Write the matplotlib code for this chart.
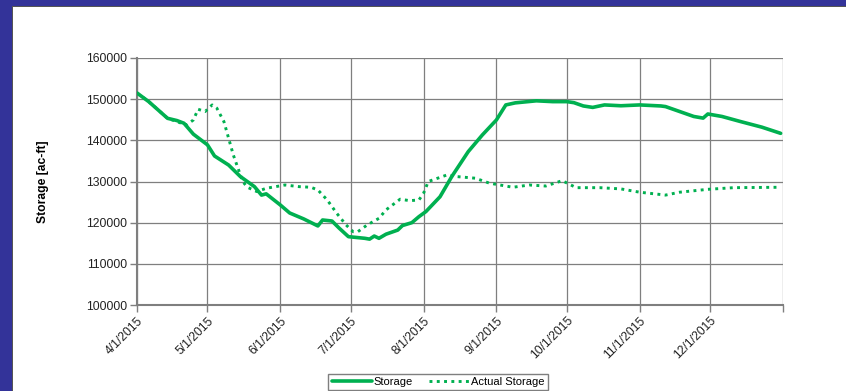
import matplotlib
matplotlib.use("Agg")
import matplotlib.pyplot as plt
from matplotlib.patches import Rectangle
import pandas as pd

# values (ac-ft)
storage_dates = ["2015-04-01", "2015-04-06", "2015-04-14", "2015-04-18", "2015-04-21",
                 "2015-04-25", "2015-05-01", "2015-05-04", "2015-05-10", "2015-05-15",
                 "2015-05-21", "2015-05-24", "2015-05-26", "2015-06-01", "2015-06-05",
                 "2015-06-11", "2015-06-17", "2015-06-19", "2015-06-23", "2015-06-26",
                 "2015-06-30", "2015-07-07", "2015-07-09", "2015-07-11", "2015-07-13",
                 "2015-07-16", "2015-07-21", "2015-07-23", "2015-07-27", "2015-07-30",
                 "2015-08-02", "2015-08-08", "2015-08-13", "2015-08-20", "2015-08-26",
                 "2015-09-01", "2015-09-05", "2015-09-09", "2015-09-18", "2015-09-25",
                 "2015-10-01", "2015-10-04", "2015-10-08", "2015-10-12", "2015-10-17",
                 "2015-10-24", "2015-11-01", "2015-11-10", "2015-11-12", "2015-11-18",
                 "2015-11-24", "2015-11-28", "2015-11-30", "2015-12-06", "2015-12-14",
                 "2015-12-23", "2015-12-31"]
storage = [151500, 149400, 145350, 144800, 144150,
           141500, 138900, 136200, 134000, 131200,
           128750, 126700, 127000, 124300, 122350,
           120900, 119200, 120650, 120400, 118700,
           116600, 116200, 116000, 116750, 116200,
           117200, 118200, 119300, 120000, 121450,
           122700, 126300, 131200, 137250, 141300,
           144950, 148600, 149100, 149600, 149400,
           149400, 149150, 148350, 148000, 148600,
           148400, 148600, 148350, 148200, 147000,
           145800, 145400, 146400, 145800, 144550,
           143200, 141700]

actual_dates = ["2015-04-01", "2015-04-06", "2015-04-14", "2015-04-18", "2015-04-22",
                "2015-04-25", "2015-04-27", "2015-04-30", "2015-05-03", "2015-05-05",
                "2015-05-08", "2015-05-10", "2015-05-12", "2015-05-14", "2015-05-16",
                "2015-05-18", "2015-05-22", "2015-05-26", "2015-06-03", "2015-06-09",
                "2015-06-14", "2015-06-17", "2015-06-21", "2015-06-25", "2015-06-29",
                "2015-07-02", "2015-07-04", "2015-07-08", "2015-07-13", "2015-07-16",
                "2015-07-22", "2015-07-26", "2015-07-30", "2015-08-01", "2015-08-03",
                "2015-08-07", "2015-08-11", "2015-08-15", "2015-08-23", "2015-08-29",
                "2015-09-08", "2015-09-15", "2015-09-22", "2015-09-29", "2015-10-05",
                "2015-10-15", "2015-10-24", "2015-11-01", "2015-11-12", "2015-11-18",
                "2015-11-30", "2015-12-11", "2015-12-31"]
actual = [151500, 149400, 145350, 144550, 143700,
          144950, 147550, 147000, 148600, 147800,
          144550, 140500, 136450, 133200, 130000,
          128600, 127550, 128350, 129150, 128750,
          128600, 127950, 125500, 122300, 119450,
          117800, 117800, 119450, 121050, 123100,
          125700, 125350, 125500, 127150, 130000,
          130800, 131600, 131200, 130800, 129600,
          128600, 129150, 128900, 130200, 128500,
          128500, 128200, 127400, 126700, 127400,
          128100, 128500, 128600]

month_ticks = ["2015-04-01", "2015-05-01", "2015-06-01", "2015-07-01", "2015-08-01",
               "2015-09-01", "2015-10-01", "2015-11-01", "2015-12-01", "2016-01-01"]
tick_labels = ["4/1/2015", "5/1/2015", "6/1/2015", "7/1/2015", "8/1/2015",
               "9/1/2015", "10/1/2015", "11/1/2015", "12/1/2015", ""]
yticks = [100000, 110000, 120000, 130000, 140000, 150000, 160000]

green = "#00B050"
grid_c = "#7f7f7f"

plt.rcParams['font.family'] = ['Liberation Sans', 'DejaVu Sans']

fig = plt.figure(figsize=(8.46, 3.91), dpi=100)
fig.patch.set_facecolor("white")
# slide frame: blue bands on top and left with a thin grey shadow
fig.patches.append(Rectangle((0, 1 - 7 / 391), 1, 7 / 391, transform=fig.transFigure,
                             facecolor="#555555", edgecolor="none", zorder=0))
fig.patches.append(Rectangle((0, 0), 13 / 846, 1, transform=fig.transFigure,
                             facecolor="#555555", edgecolor="none", zorder=0))
fig.patches.append(Rectangle((0, 1 - 6 / 391), 1, 6 / 391, transform=fig.transFigure,
                             facecolor="#333399", edgecolor="none", zorder=1))
fig.patches.append(Rectangle((0, 0), 12 / 846, 1, transform=fig.transFigure,
                             facecolor="#333399", edgecolor="none", zorder=1))

ax = fig.add_axes([137 / 846, 1 - 305 / 391, (783 - 137) / 846, (305 - 58) / 391])

ax.plot(pd.to_datetime(storage_dates), storage, color=green, lw=2.6,
        solid_joinstyle="round", solid_capstyle="round", label="Storage", zorder=3)
ax.plot(pd.to_datetime(actual_dates), actual, color=green, lw=2.1,
        linestyle=(0, (1, 1.5)), label="Actual Storage", zorder=3)

ax.set_xlim(pd.Timestamp("2015-04-01"), pd.Timestamp("2016-01-01"))
ax.set_ylim(100000, 160000)
ax.set_xticks(pd.to_datetime(month_ticks))
ax.set_xticklabels(tick_labels, rotation=45, ha="right", rotation_mode="anchor",
                   fontsize=8.7, color="#222222")
ax.set_yticks(yticks)
ax.set_yticklabels([str(v) for v in yticks], fontsize=8.7, color="#222222")
ax.tick_params(axis="both", length=5, width=1, color=grid_c, direction="out", pad=2)

ax.grid(True, color=grid_c, lw=0.9)
ax.set_axisbelow(True)
for side in ["top", "right"]:
    ax.spines[side].set_visible(False)
for side in ["left", "bottom"]:
    ax.spines[side].set_color(grid_c)
    ax.spines[side].set_linewidth(1.5)

ax.set_ylabel("Storage [ac-ft]", fontsize=8.7, fontweight="bold", labelpad=27)

fig.legend(loc="upper center", bbox_to_anchor=(438 / 846, 1 - 368 / 391), ncol=2,
           fontsize=8, frameon=True, fancybox=False, edgecolor="#7f7f7f",
           framealpha=1, handlelength=3.6, handletextpad=0.2, columnspacing=1.4,
           borderpad=0.3)

fig.savefig("out.png", dpi=100)
